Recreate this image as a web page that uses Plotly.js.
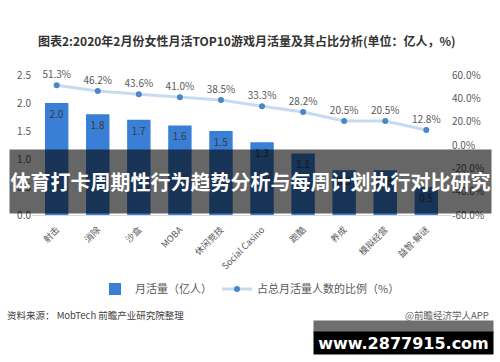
<!DOCTYPE html>
<html>
<head>
<meta charset="utf-8">
<script src="https://cdn.plot.ly/plotly-3.0.1.min.js"></script>
<style>html,body{margin:0;padding:0;background:#fff;}#chart{width:500px;height:362px;}</style>
</head>
<body>
<div id="chart"></div>
<script>
const categories = ["射击","消除","沙盒","MOBA","休闲竞技","Social Casino","跑酷","养成","模拟经营","益智-解谜"];
const monthlyActive = [2.0, 1.8, 1.7, 1.6, 1.5, 1.3, 1.1, 0.8, 0.8, 0.5];
const sharePct = [51.3, 46.2, 43.6, 41.0, 38.5, 33.3, 28.2, 20.5, 20.5, 12.8];
const leftTicks = [0, 0.5, 1.0, 1.5, 2.0, 2.5];
const rightTickVals = [-60, -40, -20, 0, 20, 40, 60];
const rightTickText = ["-60.0%","-40.0%","-20.0%","0.0%","20.0%","40.0%","60.0%"];

const FONT = '"Noto Sans CJK SC", "Noto Sans", sans-serif';
const L = 32, R = 49, T = 75, B = 147, WIDTH = 500, HEIGHT = 362;
const PW = WIDTH - L - R, PH = HEIGHT - T - B;
const px = x => (x - L) / PW;
const py = y => (T + PH - y) / PH;

const bars = {
  type: 'bar', name: '月活量（亿人）', x: categories, y: monthlyActive,
  marker: {color: '#3a7fd6'},
  text: monthlyActive.map(v => v.toFixed(1)),
  textposition: 'inside', insidetextanchor: 'end', textangle: 0,
  constraintext: 'none',
  textfont: {family: FONT, size: 10, color: '#3a3a3a'},
  hoverinfo: 'skip'
};
const line = {
  type: 'scatter', mode: 'lines+markers+text', name: '占总月活量人数的比例（%）',
  x: categories, y: sharePct, yaxis: 'y2',
  line: {color: '#c6dbf2', width: 3},
  marker: {color: '#4a86c8', size: 6},
  text: sharePct.map(v => v.toFixed(1) + '%'),
  textposition: 'top center',
  textfont: {family: FONT, size: 10, color: '#595959'},
  cliponaxis: false, hoverinfo: 'skip'
};

const layout = {
  width: WIDTH, height: HEIGHT,
  margin: {l: L, r: R, t: T, b: B, pad: 0, autoexpand: false},
  paper_bgcolor: '#fff', plot_bgcolor: '#fff',
  font: {family: FONT, color: '#595959', size: 10},
  showlegend: true,
  bargap: 0.43,
  title: {
    text: '图表2:2020年2月份女性月活TOP10游戏月活量及其占比分析(单位：亿人，%)',
    xref: 'container', yref: 'container', x: 38 / WIDTH, xanchor: 'left',
    y: 1 - 42 / HEIGHT, yanchor: 'middle',
    font: {family: FONT, size: 12, color: '#333', weight: 'bold'}
  },
  xaxis: {
    automargin: false,
    showgrid: false, showline: true, linecolor: '#d9d9d9', linewidth: 1,
    ticks: '', tickangle: -45, ticklabelstandoff: 5,
    tickfont: {family: FONT, size: 9, color: '#595959'},
    fixedrange: true
  },
  yaxis: {
    automargin: false,
    range: [0, 2.5], tickvals: leftTicks, tickformat: '.1f',
    showgrid: false, zeroline: false, showline: false, ticks: '',
    tickfont: {family: FONT, size: 10, color: '#595959'}
  },
  yaxis2: {
    automargin: false,
    overlaying: 'y', side: 'right', range: [-60, 60],
    tickvals: rightTickVals, ticktext: rightTickText,
    showgrid: false, zeroline: false, showline: false, ticks: '',
    tickfont: {family: FONT, size: 10, color: '#595959'}
  },
  legend: {
    orientation: 'h', xref: 'container', yref: 'container',
    x: 0.5, xanchor: 'center',
    y: 1 - 289 / HEIGHT, yanchor: 'middle',
    font: {family: FONT, size: 11, color: '#595959'}
  },
  annotations: [
    {xref: 'paper', yref: 'paper', x: px(5), y: py(315), xanchor: 'left', yanchor: 'middle',
     text: '资料来源： MobTech 前瞻产业研究院整理', showarrow: false,
     font: {family: FONT, size: 9.5, color: '#404040'}},
    {xref: 'paper', yref: 'paper', x: px(491), y: py(315), xanchor: 'right', yanchor: 'middle',
     text: '@前瞻经济学人APP', showarrow: false,
     font: {family: FONT, size: 9.5, color: '#606060'}},
    {xref: 'paper', yref: 'paper', x: px(250.5), y: py(181.5), xanchor: 'center', yanchor: 'middle',
     text: '体育打卡周期性行为趋势分析与每周计划执行对比研究', showarrow: false,
     width: 481, height: 63, borderpad: 0, bgcolor: 'rgba(0,0,0,0.6)',
     font: {family: FONT, size: 20, color: '#fff', weight: 'bold'}},
    {xref: 'paper', yref: 'paper', x: px(313), y: py(320), xanchor: 'left', yanchor: 'top',
     text: ' ', showarrow: false, width: 179, height: 11, borderpad: 0, bgcolor: '#6f6f6f',
     font: {size: 8}},
    {xref: 'paper', yref: 'paper', x: px(313), y: py(331), xanchor: 'left', yanchor: 'top',
     text: 'www.2877915.com', showarrow: false, width: 179, height: 22, borderpad: 0, bgcolor: '#000',
     font: {family: '"DejaVu Sans", sans-serif', size: 16, color: '#fff', weight: 'bold'}}
  ]
};

Plotly.newPlot('chart', [bars, line], layout, {displayModeBar: false, staticPlot: true});
</script>
</body>
</html>
